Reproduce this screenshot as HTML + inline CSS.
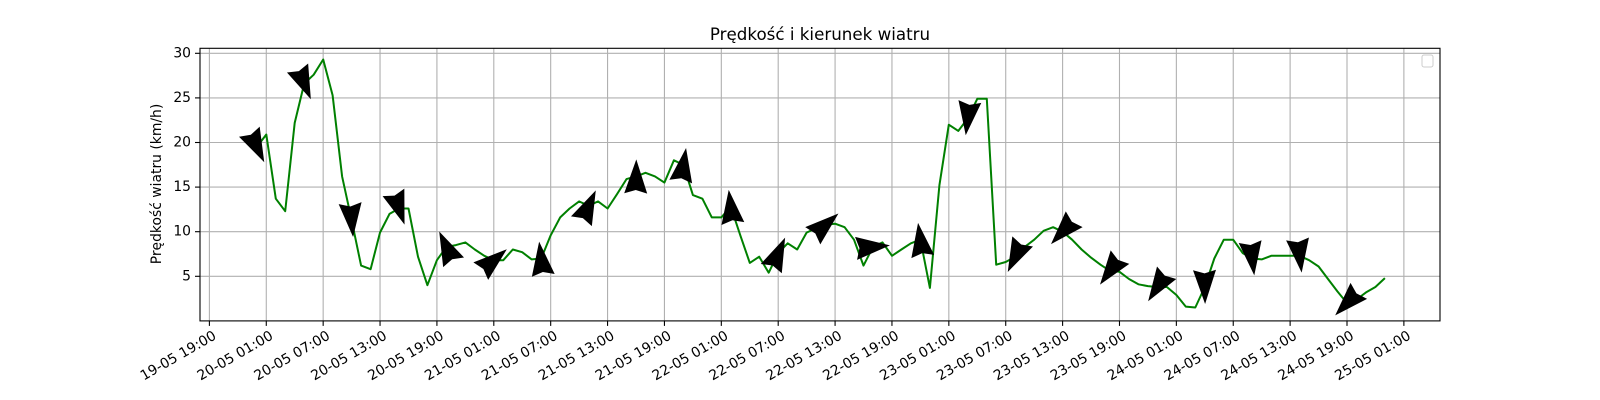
<!DOCTYPE html>
<html><head><meta charset="utf-8"><style>
html,body{margin:0;padding:0;background:#fff;}
svg{display:block;font-family:"DejaVu Sans","Liberation Sans",sans-serif;}
</style></head><body>
<svg id="chart" width="1600" height="400" viewBox="0 0 1600 400">
<rect x="0" y="0" width="1600" height="400" fill="#fff"/>
<g id="grid"></g>
<g id="line"></g>
<g id="arrows"></g>
<rect x="200" y="48.3" width="1240" height="272.6" fill="none" stroke="#000" stroke-width="1.1"/>
<g id="yticks"></g>
<g id="xticks"></g>
<text x="820" y="40" text-anchor="middle" font-size="16.7">Prędkość i kierunek wiatru</text>
<text transform="translate(157,184) rotate(-90)" text-anchor="middle" font-size="13.9" dominant-baseline="middle">Prędkość wiatru (km/h)</text>
<rect x="1422" y="55" width="11" height="12" rx="2" fill="#fff" stroke="#ccc" stroke-width="1"/>
</svg>
<script>
const startHour = 5; // first point: 20-05 00:00 (hours since 19-05 19:00)
const speeds = [19.5,20.9,13.7,12.3,22.2,26.6,27.6,29.3,25.3,16.2,11.3,6.2,5.8,9.9,12.0,12.6,12.6,7.2,4.0,6.8,8.3,8.5,8.8,8.0,7.3,6.8,6.8,8.0,7.7,6.9,7.0,9.6,11.6,12.6,13.4,12.9,13.4,12.6,
14.2,15.9,16.2,16.6,16.2,15.5,18.0,17.5,14.1,13.7,11.6,11.6,12.8,9.6,6.5,7.2,5.4,7.6,8.7,8.0,9.9,10.4,10.8,10.9,10.5,9.1,6.2,8.3,8.8,7.3,8.0,8.7,9.1,3.7,15.2,22.0,21.3,22.7,24.9,24.9,6.3,6.6,7.2,
8.3,9.1,10.1,10.5,10.0,9.1,8.0,7.1,6.3,5.6,5.5,4.7,4.1,3.9,3.8,3.8,2.9,1.6,1.5,3.8,7.0,9.1,9.1,7.6,7.0,6.9,7.3,7.3,7.3,7.3,6.8,6.1,4.7,3.3,2.0,2.4,3.2,3.8,4.8];
const arrowEvery = 5;
const arrowAngles = [64,67,85,71,245,320,263,295,271,279,263,294,319,355,262,97,116,133,126,123,89,83,83,134];
const yTicks = [5,10,15,20,25,30];
const xTickLabels = ["19-05 19:00","20-05 01:00","20-05 07:00","20-05 13:00","20-05 19:00","21-05 01:00","21-05 07:00","21-05 13:00","21-05 19:00","22-05 01:00","22-05 07:00","22-05 13:00","22-05 19:00","23-05 01:00","23-05 07:00","23-05 13:00","23-05 19:00","24-05 01:00","24-05 07:00","24-05 13:00","24-05 19:00","25-05 01:00"];
const xTickStep = 6;

const NS="http://www.w3.org/2000/svg";
function X(h){return 209.4 + h*9.48;}
function Y(v){return 320.9 - v*8.92;}
function mk(tag,attrs,parent){const e=document.createElementNS(NS,tag);for(const k in attrs)e.setAttribute(k,attrs[k]);parent.appendChild(e);return e;}
const grid=document.getElementById('grid'),yt=document.getElementById('yticks'),xt=document.getElementById('xticks');
yTicks.forEach(v=>{
  const y=Y(v);
  const g=mk('line',{x1:200,x2:1440,y1:y,y2:y,stroke:'#b0b0b0','stroke-width':1.1},grid);
  
  
  const t=mk('line',{x1:195,x2:200,y1:y,y2:y,stroke:'#000','stroke-width':1.1},yt);
  
  
  const l=mk('text',{x:191,y:y,'text-anchor':'end','dominant-baseline':'middle','font-size':13.9},yt);
  l.textContent=v;
  
  
});
xTickLabels.forEach((s,i)=>{
  const x=X(i*xTickStep);
  const g=mk('line',{x1:x,x2:x,y1:48.3,y2:320.9,stroke:'#b0b0b0','stroke-width':1.1},grid);
  
  
  const t=mk('line',{x1:x,x2:x,y1:320.9,y2:325.9,stroke:'#000','stroke-width':1.1},xt);
  
  
  const l=mk('text',{transform:`translate(${x+3},${330}) rotate(-30)`,'text-anchor':'end','dominant-baseline':'hanging','font-size':13.9},xt);
  l.textContent=s;
  
  
});
const pts=speeds.map((v,i)=>X(startHour+i).toFixed(1)+','+Y(v).toFixed(1)).join(' ');
const pl=mk('polyline',{points:pts,fill:'none',stroke:'#008000','stroke-width':2,'stroke-linejoin':'round'},document.getElementById('line'));


const ag=document.getElementById('arrows');
arrowAngles.forEach((a,k)=>{
  const i=k*arrowEvery;
  if(i>=speeds.length)return;
  const cx=X(startHour+i),cy=Y(speeds[i]);
  const p=mk('polygon',{points:'17,0 -17,-11.5 -13.6,0 -17,11.5',fill:'#000',transform:`translate(${cx.toFixed(1)},${cy.toFixed(1)}) rotate(${a})`},ag);
  
  
});
</script>
</body></html>
